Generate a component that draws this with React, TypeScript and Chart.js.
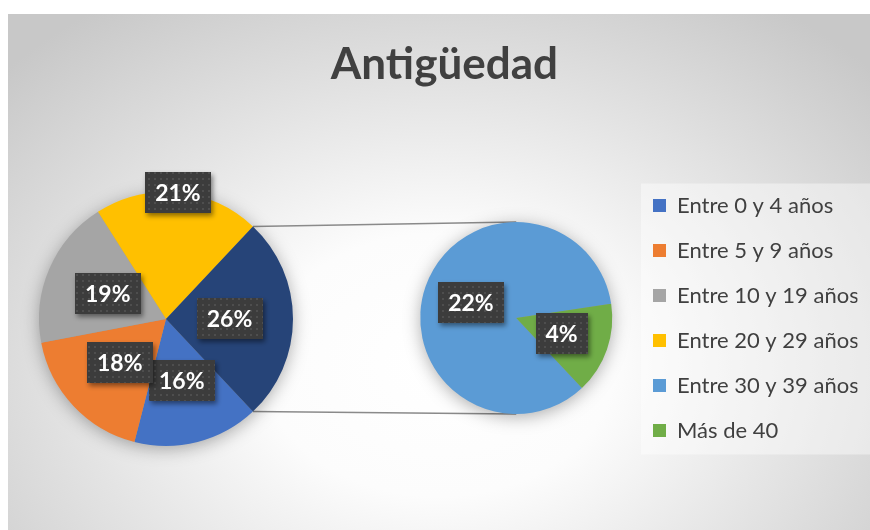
import React, { useEffect, useRef } from 'react';
import { Chart, registerables } from 'chart.js';

Chart.register(...registerables);

// ---------- data ----------
const TITLE = 'Antigüedad';
const MAIN_LABELS = ['Entre 0 y 4 años', 'Entre 5 y 9 años', 'Entre 10 y 19 años', 'Entre 20 y 29 años'];
const MAIN_VALUES = [16, 18, 19, 21];
const SECOND_LABELS = ['Entre 30 y 39 años', 'Más de 40'];
const SECOND_VALUES = [22, 4];

const MAIN_COLORS = ['#4472C4', '#ED7D31', '#A5A5A5', '#FFC000'];
const OTHER_COLOR = '#264478';
const SECOND_COLORS = ['#5B9BD5', '#70AD47'];

const OTHER_VALUE = SECOND_VALUES.reduce((a, b) => a + b, 0);
const TOTAL = MAIN_VALUES.reduce((a, b) => a + b, 0) + OTHER_VALUE;
// "Other" slice centred on the horizontal axis, like a pie-of-pie
const ROTATION = 90 + (OTHER_VALUE / TOTAL) * 180;

const FONT = 'Lato';
const TEXT_COLOR = '#404040';

// layout of the two layered canvases
const BOX_W = 862;
const BOX_H = 516;
const MAIN_SHIFT = 234; // main canvas starts this far left of the frame

function makePattern(ctx: CanvasRenderingContext2D) {
  const c = document.createElement('canvas');
  c.width = 6;
  c.height = 6;
  const g = c.getContext('2d')!;
  g.fillStyle = '#3c3c3c';
  g.fillRect(0, 0, 6, 6);
  g.fillStyle = '#4e4e4e';
  g.fillRect(2, 2, 2, 2);
  return ctx.createPattern(c, 'repeat');
}

const haloPlugin = {
  id: 'halo',
  beforeDatasetsDraw(chart: any) {
    const arc = chart.getDatasetMeta(0).data[0];
    if (!arc) return;
    const { ctx } = chart;
    ctx.save();
    ctx.shadowColor = 'rgba(0,0,0,0.35)';
    ctx.shadowBlur = 18;
    ctx.shadowOffsetY = 3;
    ctx.beginPath();
    ctx.arc(arc.x, arc.y, arc.outerRadius - 1, 0, Math.PI * 2);
    ctx.fillStyle = '#999';
    ctx.fill();
    ctx.restore();
  },
};

const pctLabelPlugin = {
  id: 'pctLabels',
  afterDatasetsDraw(chart: any, _args: any, opts: any) {
    const { ctx } = chart;
    const meta = chart.getDatasetMeta(0);
    const values = chart.data.datasets[0].data as number[];
    const factors: number[] = opts.radiusFactors || [];
    const pattern = makePattern(ctx);
    ctx.save();
    ctx.font = `bold 23px ${FONT}`;
    meta.data.forEach((arc: any, i: number) => {
      const mid = (arc.startAngle + arc.endAngle) / 2;
      const f = factors[i] ?? 0.5;
      const cx = arc.x + Math.cos(mid) * arc.outerRadius * f;
      const cy = arc.y + Math.sin(mid) * arc.outerRadius * f;
      const text = `${Math.round((values[i] / TOTAL) * 100)}%`;
      const w = ctx.measureText(text).width + 20;
      const h = 41;
      ctx.shadowColor = 'rgba(0,0,0,0.45)';
      ctx.shadowBlur = 5;
      ctx.shadowOffsetX = 2;
      ctx.shadowOffsetY = 3;
      ctx.fillStyle = pattern || '#404040';
      ctx.fillRect(Math.round(cx - w / 2), Math.round(cy - h / 2), Math.round(w), h);
      ctx.shadowColor = 'rgba(0,0,0,0)';
      ctx.shadowBlur = 0;
      ctx.shadowOffsetX = 0;
      ctx.shadowOffsetY = 0;
      ctx.fillStyle = '#ffffff';
      ctx.textAlign = 'center';
      ctx.textBaseline = 'middle';
      ctx.fillText(text, cx, cy + 1);
    });
    ctx.restore();
  },
};

const legendBgPlugin = {
  id: 'legendBg',
  beforeDraw(chart: any) {
    const lg = chart.legend;
    if (!lg || !lg.legendHitBoxes || !lg.legendHitBoxes.length) return;
    const boxes = lg.legendHitBoxes;
    const first = boxes[0];
    const last = boxes[boxes.length - 1];
    const { ctx } = chart;
    ctx.save();
    ctx.fillStyle = 'rgba(255,255,255,0.42)';
    const left = first.left - 12;
    const top = first.top - 11;
    ctx.fillRect(left, top, chart.width - left, last.top + last.height + 13 - top);
    ctx.restore();
  },
};

export default function App() {
  const mainRef = useRef<HTMLCanvasElement>(null);
  const secRef = useRef<HTMLCanvasElement>(null);

  useEffect(() => {
    if (!mainRef.current || !secRef.current) return;
    const mainCanvas = mainRef.current;
    const secCanvas = secRef.current;

    const secondary = new Chart(secCanvas, {
      type: 'pie',
      data: {
        labels: SECOND_LABELS,
        datasets: [
          {
            data: SECOND_VALUES,
            backgroundColor: SECOND_COLORS,
            borderWidth: 0,
            rotation: ROTATION,
            radius: 96,
            clip: false,
          } as any,
        ],
      },
      options: {
        responsive: false,
        animation: false,
        events: [],
        layout: { padding: { left: 394.5, right: 12.5, top: 92, bottom: 0 } },
        plugins: {
          title: { display: false },
          tooltip: { enabled: false },
          legend: {
            display: true,
            position: 'right',
            onClick: () => {},
            labels: {
              color: TEXT_COLOR,
              font: { family: FONT, size: 22 },
              boxWidth: 13,
              boxHeight: 13,
              padding: 23,
              generateLabels: () => [
                ...MAIN_LABELS.map((t, i) => ({
                  text: t,
                  fillStyle: MAIN_COLORS[i],
                  strokeStyle: 'rgba(0,0,0,0)',
                  lineWidth: 0,
                  hidden: false,
                  index: i,
                  fontColor: TEXT_COLOR,
                })),
                ...SECOND_LABELS.map((t, i) => ({
                  text: t,
                  fillStyle: SECOND_COLORS[i],
                  strokeStyle: 'rgba(0,0,0,0)',
                  lineWidth: 0,
                  hidden: false,
                  index: MAIN_LABELS.length + i,
                  fontColor: TEXT_COLOR,
                })),
              ],
            },
          },
          pctLabels: { radiusFactors: [0.5, 0.5] },
        } as any,
      },
      plugins: [haloPlugin, pctLabelPlugin, legendBgPlugin],
    });

    const connectorPlugin = {
      id: 'connectors',
      beforeDatasetsDraw(chart: any) {
        const other = chart.getDatasetMeta(0).data[MAIN_LABELS.length];
        const sec = secondary.getDatasetMeta(0).data[0] as any;
        if (!other || !sec) return;
        const dx = secCanvas.getBoundingClientRect().left - mainCanvas.getBoundingClientRect().left;
        const dy = secCanvas.getBoundingClientRect().top - mainCanvas.getBoundingClientRect().top;
        const { ctx } = chart;
        const R = other.outerRadius;
        const p1 = { x: other.x + Math.cos(other.startAngle) * R, y: other.y + Math.sin(other.startAngle) * R };
        const p2 = { x: other.x + Math.cos(other.endAngle) * R, y: other.y + Math.sin(other.endAngle) * R };
        ctx.save();
        ctx.strokeStyle = '#8a8a8a';
        ctx.lineWidth = 1.5;
        ctx.beginPath();
        ctx.moveTo(p1.x, p1.y);
        ctx.lineTo(sec.x + dx, sec.y + dy - sec.outerRadius);
        ctx.moveTo(p2.x, p2.y);
        ctx.lineTo(sec.x + dx, sec.y + dy + sec.outerRadius);
        ctx.stroke();
        ctx.restore();
      },
    };

    const main = new Chart(mainCanvas, {
      type: 'pie',
      data: {
        labels: [...MAIN_LABELS, 'Otros'],
        datasets: [
          {
            data: [...MAIN_VALUES, OTHER_VALUE],
            backgroundColor: [...MAIN_COLORS, OTHER_COLOR],
            borderWidth: 0,
            rotation: ROTATION,
            radius: 127,
            clip: false,
          } as any,
        ],
      },
      options: {
        responsive: false,
        animation: false,
        events: [],
        layout: { padding: { left: 0, right: 312, top: 0, bottom: 0 } },
        plugins: {
          legend: { display: false },
          tooltip: { enabled: false },
          title: {
            display: true,
            text: TITLE,
            align: 'end',
            color: TEXT_COLOR,
            font: { family: FONT, size: 44, weight: 'bold', lineHeight: 1.2 },
            padding: { top: 24, bottom: 17.2 },
          },
          pctLabels: { radiusFactors: [0.5, 0.5, 0.5, 1.0, 0.5] },
        } as any,
      },
      plugins: [connectorPlugin, haloPlugin, pctLabelPlugin],
    });

    return () => {
      main.destroy();
      secondary.destroy();
    };
  }, []);

  return (
    <div
      style={{
        position: 'fixed',
        left: 8,
        top: 14,
        width: BOX_W,
        height: BOX_H,
        overflow: 'hidden',
        background:
          'radial-gradient(ellipse 68% 85% at 50% 68%, #ffffff 0%, #fcfcfc 30%, #e4e4e4 62%, #c8c8c8 100%)',
      }}
    >
      <canvas
        ref={mainRef}
        width={BOX_W + MAIN_SHIFT}
        height={BOX_H}
        style={{ position: 'absolute', left: -MAIN_SHIFT, top: 0 }}
      />
      <canvas ref={secRef} width={BOX_W} height={BOX_H} style={{ position: 'absolute', left: 0, top: 0 }} />
    </div>
  );
}
